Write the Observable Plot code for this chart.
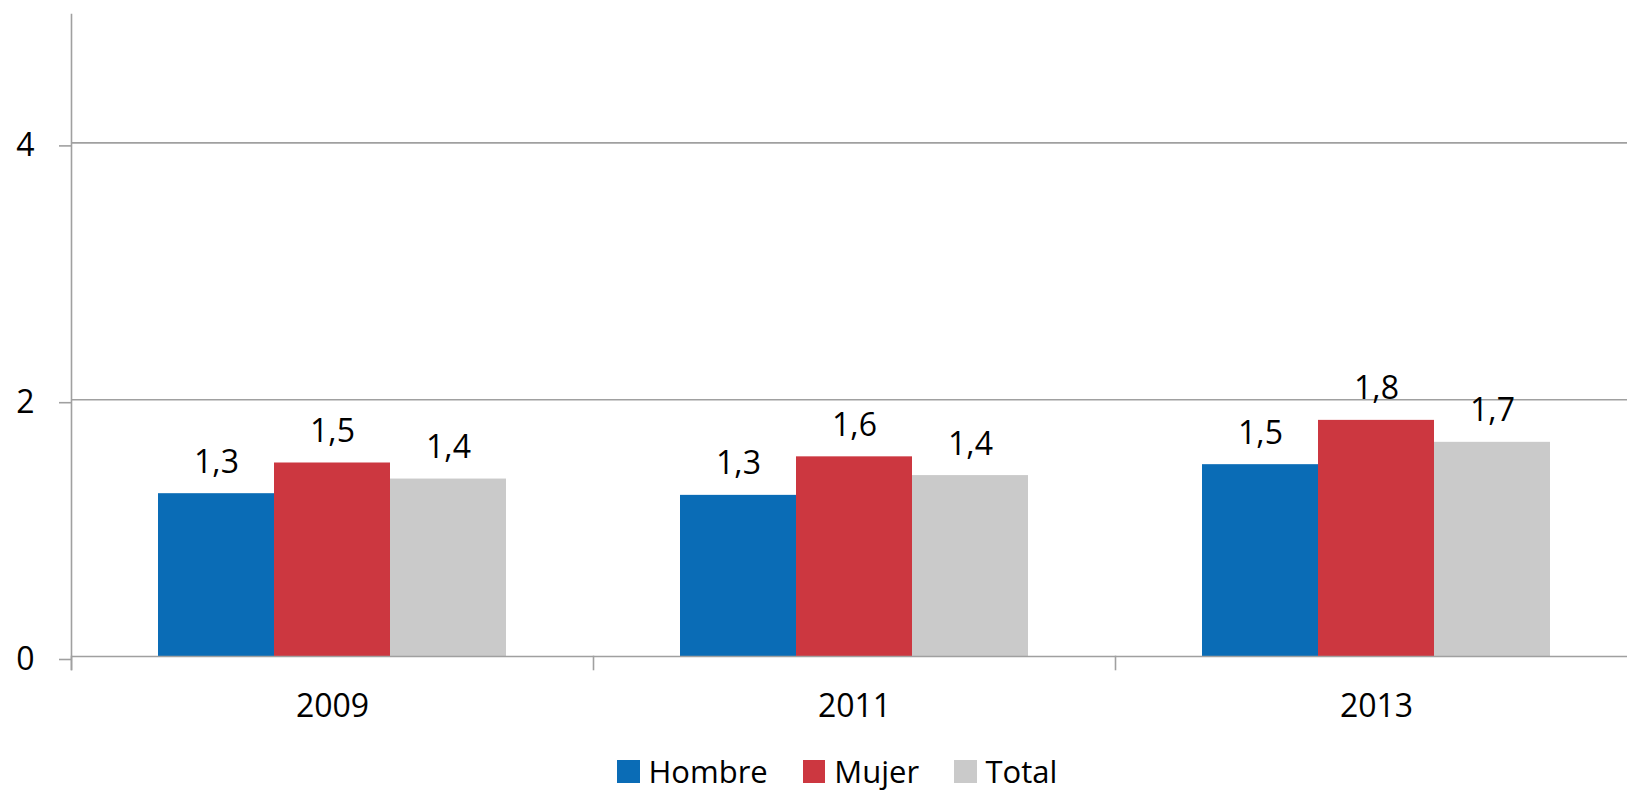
<!DOCTYPE html>
<html>
<head>
<meta charset="utf-8">
<script src="https://cdn.jsdelivr.net/npm/d3@7"></script>
<script src="https://cdn.jsdelivr.net/npm/@observablehq/plot@0.6"></script>
<style>
  html, body { margin: 0; padding: 0; background: #fff; overflow: hidden; }
  body { width: 1627px; height: 797px; position: relative; font-family: "Open Sans", sans-serif; }
  #chart { position: absolute; left: 0; top: 0; }
  #legend { position: absolute; left: 617px; top: 756px; display: flex; align-items: flex-start; font-size: 31px; line-height: 31px; color: #000; }
  #legend .item { display: flex; align-items: flex-start; margin-right: 35px; }
  #legend .sw { width: 22.5px; height: 22.5px; margin-top: 4px; margin-right: 9px; }
</style>
</head>
<body>
<div id="chart"></div>
<div id="legend"></div>
<script>
const years = ["2009", "2011", "2013"];
const series = ["Hombre", "Mujer", "Total"];
const hombre = [1.268, 1.255, 1.494];
const mujer = [1.507, 1.555, 1.839];
const total = [1.382, 1.409, 1.668];
const colors = ["#0a6cb6", "#cc3740", "#cacaca"];
const yTicks = [0, 2, 4];

const valuesBySeries = [hombre, mujer, total];
const rows = [];
years.forEach((yr, i) => series.forEach((s, j) => rows.push({year: yr, series: s, value: valuesBySeries[j][i]})));

const fmt = d3.formatLocale({decimal: ",", thousands: ".", grouping: [3], currency: ["", "€"]}).format(".1f");
const gridColor = "#a0a0a0";

const chart = Plot.plot({
  width: 1627,
  height: 740,
  marginLeft: 70,
  marginRight: -11,
  marginTop: 14,
  marginBottom: 84,
  style: {fontFamily: "Open Sans", fontSize: "32px", color: "#000", background: "#fff", maxWidth: "none"},
  fx: {domain: years, padding: 0, label: null},
  x: {domain: series, paddingInner: 0, paddingOuter: 0.747, axis: null},
  y: {domain: [0, 5], label: null},
  color: {domain: series, range: colors},
  marks: [
    Plot.ruleY([2, 4], {stroke: gridColor, strokeWidth: 1.6}),
    Plot.barY(rows, {fx: "year", x: "series", y: "value", fill: "series"}),
    Plot.ruleY([0], {stroke: gridColor, strokeWidth: 1.6}),
    Plot.frame({anchor: "left", stroke: gridColor, strokeWidth: 1.6, insetTop: 642, insetBottom: -13}),
    Plot.frame({anchor: "left", stroke: gridColor, strokeWidth: 1.6, insetBottom: -13, fx: [years[0]]}),
    Plot.axisY({ticks: yTicks, tickSize: 12, tickPadding: 25, stroke: gridColor, strokeWidth: 1.6, fill: "#000", fontSize: 32, dy: 3, tickFormat: d => String(d)}),
    Plot.axisFx({anchor: "bottom", tickSize: 0, tickPadding: 38, fontSize: 32, fill: "#000", label: null}),
    Plot.text(rows, {fx: "year", x: "series", y: "value", text: d => fmt(d.value), lineAnchor: "bottom", dy: -21, fontSize: 32, fill: "#000"})
  ]
});
document.getElementById("chart").appendChild(chart);

const legend = document.getElementById("legend");
series.forEach((s, i) => {
  const item = document.createElement("div");
  item.className = "item";
  const sw = document.createElement("span");
  sw.className = "sw";
  sw.style.background = colors[i];
  const label = document.createElement("span");
  label.textContent = s;
  item.appendChild(sw);
  item.appendChild(label);
  legend.appendChild(item);
});
</script>
</body>
</html>
